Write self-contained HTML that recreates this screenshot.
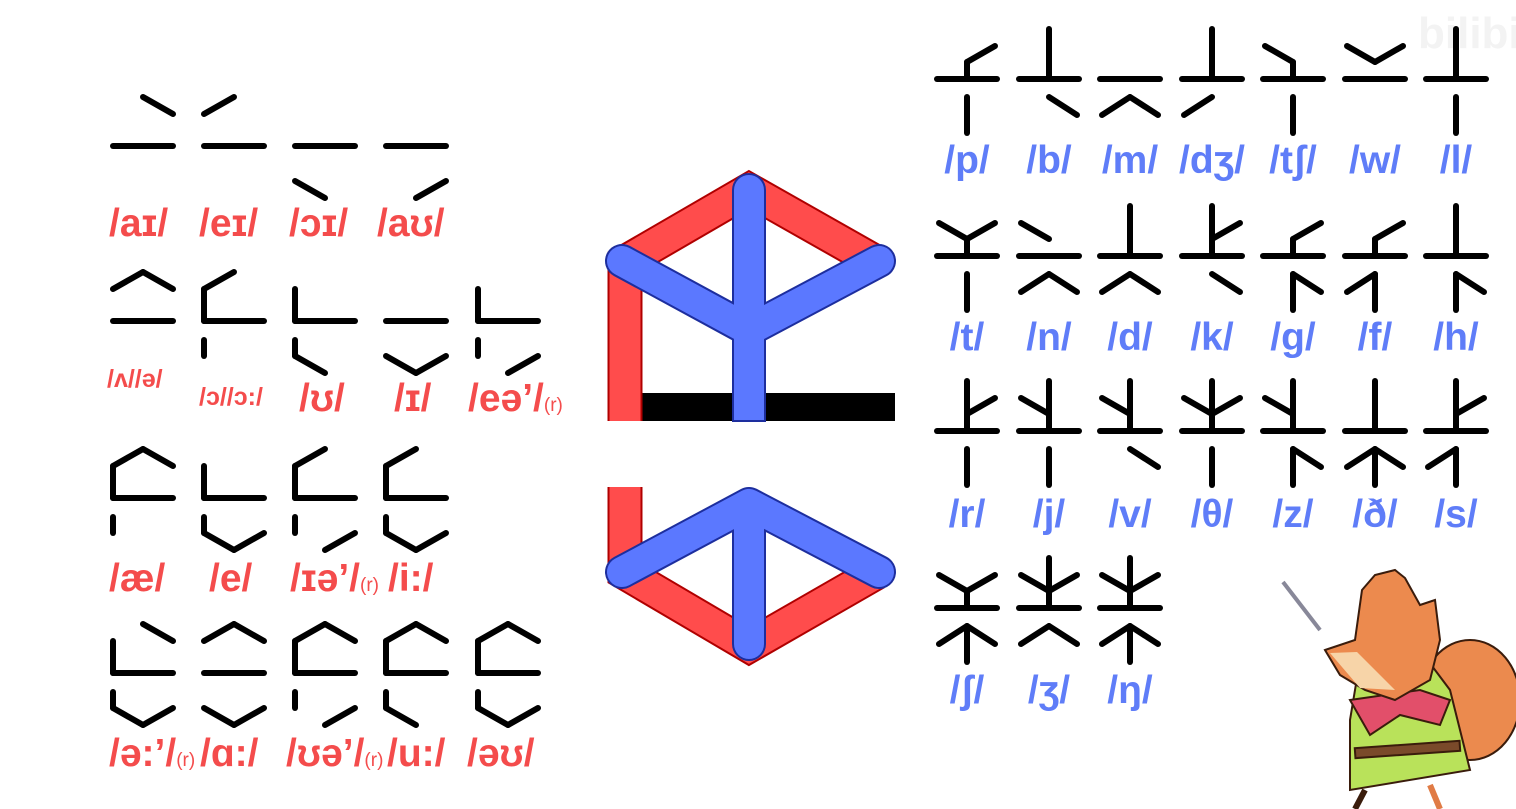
<!DOCTYPE html>
<html><head><meta charset="utf-8"><style>
html,body{margin:0;padding:0;background:#fff;}
svg{display:block;}
.r{fill:#f44c4c;font-family:"Liberation Sans",sans-serif;font-weight:bold;}
.b{fill:#5f7df8;font-family:"Liberation Sans",sans-serif;font-weight:bold;}
</style></head><body>
<svg width="1516" height="809" viewBox="0 0 1516 809" xmlns="http://www.w3.org/2000/svg">
<defs>
<path id="UL" d="M0,-32L30,-49"/>
<path id="UR" d="M30,-49L60,-32"/>
<path id="UV" d="M0,-32V0"/>
<path id="BA" d="M0,0H60"/>
<path id="LV" d="M0,19V35"/>
<path id="LL" d="M0,35L30,52"/>
<path id="LR" d="M30,52L60,35"/>
<path id="cT" d="M30,-50V0"/>
<path id="cS" d="M30,-17V0"/>
<path id="cUL" d="M2,-33L30,-17"/>
<path id="cUR" d="M30,-17L58,-33"/>
<path id="cLV" d="M30,18V54"/>
<path id="cLL" d="M2,36L30,18"/>
<path id="cLR" d="M30,18L58,36"/>
</defs>
<text x="1418" y="48" font-family="Liberation Sans" font-weight="bold" font-size="44" fill="#f3f3f3">bilibi</text>
<g stroke="#000" stroke-width="6" stroke-linecap="round" fill="none">
<g transform="translate(113,146)"><use href="#UR"/><use href="#BA"/></g>
<g transform="translate(204,146)"><use href="#UL"/><use href="#BA"/></g>
<g transform="translate(295,146)"><use href="#BA"/><use href="#LL"/></g>
<g transform="translate(386,146)"><use href="#BA"/><use href="#LR"/></g>
<g transform="translate(113,321)"><use href="#UL"/><use href="#UR"/><use href="#BA"/></g>
<g transform="translate(204,321)"><use href="#UV"/><use href="#UL"/><use href="#BA"/><use href="#LV"/></g>
<g transform="translate(295,321)"><use href="#UV"/><use href="#BA"/><use href="#LV"/><use href="#LL"/></g>
<g transform="translate(386,321)"><use href="#BA"/><use href="#LL"/><use href="#LR"/></g>
<g transform="translate(478,321)"><use href="#UV"/><use href="#BA"/><use href="#LV"/><use href="#LR"/></g>
<g transform="translate(113,498)"><use href="#UV"/><use href="#UL"/><use href="#UR"/><use href="#BA"/><use href="#LV"/></g>
<g transform="translate(204,498)"><use href="#UV"/><use href="#BA"/><use href="#LV"/><use href="#LL"/><use href="#LR"/></g>
<g transform="translate(295,498)"><use href="#UV"/><use href="#UL"/><use href="#BA"/><use href="#LV"/><use href="#LR"/></g>
<g transform="translate(386,498)"><use href="#UV"/><use href="#UL"/><use href="#BA"/><use href="#LV"/><use href="#LL"/><use href="#LR"/></g>
<g transform="translate(113,673)"><use href="#UV"/><use href="#UR"/><use href="#BA"/><use href="#LV"/><use href="#LL"/><use href="#LR"/></g>
<g transform="translate(204,673)"><use href="#UL"/><use href="#UR"/><use href="#BA"/><use href="#LL"/><use href="#LR"/></g>
<g transform="translate(295,673)"><use href="#UV"/><use href="#UL"/><use href="#UR"/><use href="#BA"/><use href="#LV"/><use href="#LR"/></g>
<g transform="translate(386,673)"><use href="#UV"/><use href="#UL"/><use href="#UR"/><use href="#BA"/><use href="#LV"/><use href="#LL"/></g>
<g transform="translate(478,673)"><use href="#UV"/><use href="#UL"/><use href="#UR"/><use href="#BA"/><use href="#LV"/><use href="#LL"/><use href="#LR"/></g>

<g transform="translate(937,79)"><use href="#cS"/><use href="#cUR"/><use href="#BA"/><use href="#cLV"/></g>
<g transform="translate(1019,79)"><use href="#cT"/><use href="#BA"/><use href="#cLR"/></g>
<g transform="translate(1100,79)"><use href="#BA"/><use href="#cLL"/><use href="#cLR"/></g>
<g transform="translate(1182,79)"><use href="#cT"/><use href="#BA"/><use href="#cLL"/></g>
<g transform="translate(1263,79)"><use href="#cS"/><use href="#cUL"/><use href="#BA"/><use href="#cLV"/></g>
<g transform="translate(1345,79)"><use href="#cUL"/><use href="#cUR"/><use href="#BA"/></g>
<g transform="translate(1426,79)"><use href="#cT"/><use href="#BA"/><use href="#cLV"/></g>
<g transform="translate(937,256)"><use href="#cS"/><use href="#cUL"/><use href="#cUR"/><use href="#BA"/><use href="#cLV"/></g>
<g transform="translate(1019,256)"><use href="#cUL"/><use href="#BA"/><use href="#cLL"/><use href="#cLR"/></g>
<g transform="translate(1100,256)"><use href="#cT"/><use href="#BA"/><use href="#cLL"/><use href="#cLR"/></g>
<g transform="translate(1182,256)"><use href="#cT"/><use href="#cUR"/><use href="#BA"/><use href="#cLR"/></g>
<g transform="translate(1263,256)"><use href="#cS"/><use href="#cUR"/><use href="#BA"/><use href="#cLV"/><use href="#cLR"/></g>
<g transform="translate(1345,256)"><use href="#cS"/><use href="#cUR"/><use href="#BA"/><use href="#cLV"/><use href="#cLL"/></g>
<g transform="translate(1426,256)"><use href="#cT"/><use href="#BA"/><use href="#cLV"/><use href="#cLR"/></g>
<g transform="translate(937,431)"><use href="#cT"/><use href="#cUR"/><use href="#BA"/><use href="#cLV"/></g>
<g transform="translate(1019,431)"><use href="#cT"/><use href="#cUL"/><use href="#BA"/><use href="#cLV"/></g>
<g transform="translate(1100,431)"><use href="#cT"/><use href="#cUL"/><use href="#BA"/><use href="#cLR"/></g>
<g transform="translate(1182,431)"><use href="#cT"/><use href="#cUL"/><use href="#cUR"/><use href="#BA"/><use href="#cLV"/></g>
<g transform="translate(1263,431)"><use href="#cT"/><use href="#cUL"/><use href="#BA"/><use href="#cLV"/><use href="#cLR"/></g>
<g transform="translate(1345,431)"><use href="#cT"/><use href="#BA"/><use href="#cLV"/><use href="#cLL"/><use href="#cLR"/></g>
<g transform="translate(1426,431)"><use href="#cT"/><use href="#cUR"/><use href="#BA"/><use href="#cLV"/><use href="#cLL"/></g>
<g transform="translate(937,608)"><use href="#cS"/><use href="#cUL"/><use href="#cUR"/><use href="#BA"/><use href="#cLV"/><use href="#cLL"/><use href="#cLR"/></g>
<g transform="translate(1019,608)"><use href="#cT"/><use href="#cUL"/><use href="#cUR"/><use href="#BA"/><use href="#cLL"/><use href="#cLR"/></g>
<g transform="translate(1100,608)"><use href="#cT"/><use href="#cUL"/><use href="#cUR"/><use href="#BA"/><use href="#cLV"/><use href="#cLL"/><use href="#cLR"/></g>
</g>

<g class="r" font-size="39">
<text x="109" y="236">/aɪ/</text>
<text x="199" y="236">/eɪ/</text>
<text x="289" y="236">/ɔɪ/</text>
<text x="377" y="236">/aʊ/</text>
<text x="107" y="387" font-size="25">/ʌ//ə/</text>
<text x="199" y="405" font-size="25">/ɔ//ɔ:/</text>
<text x="299" y="411">/ʊ/</text>
<text x="394" y="411">/ɪ/</text>
<text x="468" y="411">/eə’/<tspan font-size="19" font-weight="normal">(r)</tspan></text>
<text x="109" y="591">/æ/</text>
<text x="209" y="591">/e/</text>
<text x="290" y="591">/ɪə’/<tspan font-size="19" font-weight="normal">(r)</tspan></text>
<text x="388" y="591">/i:/</text>
<text x="109" y="766">/ə:’/<tspan font-size="19" font-weight="normal">(r)</tspan></text>
<text x="200" y="766">/ɑ:/</text>
<text x="286" y="766">/ʊə’/<tspan font-size="19" font-weight="normal">(r)</tspan></text>
<text x="387" y="766">/u:/</text>
<text x="467" y="766">/əʊ/</text>
</g>
<g class="b" font-size="39" text-anchor="middle">
<text x="967" y="173">/p/</text><text x="1049" y="173">/b/</text><text x="1130" y="173">/m/</text><text x="1212" y="173">/dʒ/</text><text x="1293" y="173">/tʃ/</text><text x="1375" y="173">/w/</text><text x="1456" y="173">/l/</text>
<text x="967" y="350">/t/</text><text x="1049" y="350">/n/</text><text x="1130" y="350">/d/</text><text x="1212" y="350">/k/</text><text x="1293" y="350">/g/</text><text x="1375" y="350">/f/</text><text x="1456" y="350">/h/</text>
<text x="967" y="527">/r/</text><text x="1049" y="527">/j/</text><text x="1130" y="527">/v/</text><text x="1212" y="527">/θ/</text><text x="1293" y="527">/z/</text><text x="1375" y="527">/ð/</text><text x="1456" y="527">/s/</text>
<text x="967" y="703">/ʃ/</text><text x="1049" y="703">/ʒ/</text><text x="1130" y="703">/ŋ/</text>
</g>

<rect x="641" y="393" width="254" height="28" fill="#000"/>
<g fill="none" stroke-linejoin="miter">
<path d="M625,421V262L749,190L876,262" stroke="#b00000" stroke-width="35"/>
<path d="M625,421V262L749,190L876,262" stroke="#ff4c4c" stroke-width="31"/>
</g>
<g fill="none" stroke-linecap="round" stroke-linejoin="round">
<path d="M749,190V330M622,261L749,330L879,261" stroke="#1d2e9e" stroke-width="34"/>
</g>
<rect x="732" y="300" width="34" height="122" fill="#1d2e9e"/>
<g fill="none" stroke-linecap="round" stroke-linejoin="round">
<path d="M749,190V330M622,261L749,330L879,261" stroke="#5b78ff" stroke-width="30"/>
</g>
<rect x="734" y="300" width="30" height="120" fill="#5b78ff"/>
<g fill="none">
<path d="M625,487V573L749,646L876,573" stroke="#b00000" stroke-width="35"/>
<path d="M625,487V573L749,646L876,573" stroke="#ff4c4c" stroke-width="31"/>
</g>
<g fill="none" stroke-linecap="round" stroke-linejoin="round">
<path d="M749,506V644M622,572L749,504L879,572" stroke="#1d2e9e" stroke-width="34"/>
<path d="M749,506V644M622,572L749,504L879,572" stroke="#5b78ff" stroke-width="30"/>
</g>

<g stroke="#3a1c0c" stroke-width="2">
<line x1="1283" y1="582" x2="1320" y2="630" stroke="#889" stroke-width="4"/>
<ellipse cx="1470" cy="700" rx="50" ry="60" fill="#eb8a4e"/>
<path d="M1350,720 L1360,660 L1420,650 L1450,690 L1470,770 L1350,790 Z" fill="#b9e25a"/>
<rect x="1355" y="745" width="105" height="10" fill="#7a4a2a" transform="rotate(-4 1400 750)"/>
<path d="M1350,700 L1420,690 L1450,700 L1440,725 L1400,715 L1370,735 Z" fill="#e24f6a"/>
<path d="M1325,650 L1355,640 L1362,590 L1375,575 L1395,570 L1405,578 L1420,605 L1435,600 L1440,640 L1430,680 L1395,700 L1365,690 L1340,675 Z" fill="#ec8a4e"/>
<path d="M1330,653 L1357,652 L1395,690 L1360,688 Z" fill="#f7d4a8" stroke="none"/>
<line x1="1355" y1="809" x2="1365" y2="790" stroke-width="6"/>
<line x1="1440" y1="809" x2="1430" y2="785" stroke-width="6" stroke="#e07b45"/>
</g>
</svg>
</body></html>
